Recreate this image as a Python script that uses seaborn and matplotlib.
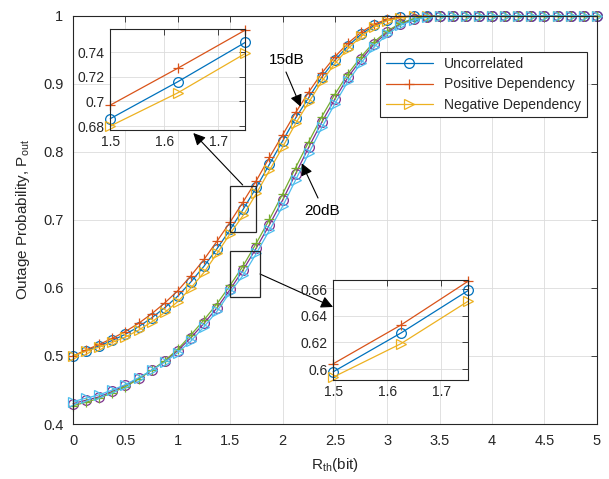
import numpy as np
import pandas as pd
import seaborn as sns
import matplotlib.pyplot as plt
from matplotlib.patches import Rectangle
from matplotlib.ticker import FuncFormatter

# ---- data ----
r_th = [0, 0.125, 0.25, 0.375, 0.5, 0.625, 0.75, 0.875, 1.0, 1.125, 1.25, 1.375,
        1.5, 1.625, 1.75, 1.875, 2.0, 2.125, 2.25, 2.375, 2.5, 2.625, 2.75, 2.875,
        3.0, 3.125, 3.25, 3.375, 3.5, 3.625, 3.75, 3.875, 4.0, 4.125, 4.25, 4.375,
        4.5, 4.625, 4.75, 4.875, 5.0]

# 15 dB
unc_15 = [0.500, 0.508, 0.515, 0.523, 0.532, 0.543, 0.556, 0.571, 0.588, 0.609, 0.632, 0.658,
          0.686, 0.716, 0.748, 0.782, 0.816, 0.850, 0.880, 0.910, 0.935, 0.956, 0.973, 0.986,
          0.994, 0.998, 1.0, 1.0, 1.0, 1.0, 1.0, 1.0, 1.0, 1.0, 1.0, 1.0,
          1.0, 1.0, 1.0, 1.0, 1.0]
pos_15 = [0.500, 0.509, 0.517, 0.526, 0.536, 0.548, 0.562, 0.578, 0.596, 0.618, 0.642, 0.669,
          0.697, 0.727, 0.758, 0.792, 0.825, 0.858, 0.888, 0.916, 0.940, 0.960, 0.976, 0.988,
          0.995, 0.999, 1.0, 1.0, 1.0, 1.0, 1.0, 1.0, 1.0, 1.0, 1.0, 1.0,
          1.0, 1.0, 1.0, 1.0, 1.0]
neg_15 = [0.500, 0.507, 0.513, 0.520, 0.528, 0.538, 0.550, 0.564, 0.580, 0.600, 0.623, 0.651,
          0.680, 0.707, 0.739, 0.773, 0.807, 0.842, 0.873, 0.904, 0.930, 0.952, 0.970, 0.984,
          0.993, 0.997, 1.0, 1.0, 1.0, 1.0, 1.0, 1.0, 1.0, 1.0, 1.0, 1.0,
          1.0, 1.0, 1.0, 1.0, 1.0]
# 20 dB
unc_20 = [0.430, 0.435, 0.440, 0.448, 0.457, 0.467, 0.479, 0.492, 0.508, 0.527, 0.548, 0.571,
          0.598, 0.627, 0.659, 0.693, 0.729, 0.768, 0.807, 0.844, 0.878, 0.910, 0.936, 0.959,
          0.976, 0.988, 0.995, 0.999, 1.0, 1.0, 1.0, 1.0, 1.0, 1.0, 1.0, 1.0,
          1.0, 1.0, 1.0, 1.0, 1.0]
pos_20 = [0.427, 0.432, 0.438, 0.446, 0.455, 0.466, 0.479, 0.493, 0.510, 0.531, 0.553, 0.577,
          0.604, 0.633, 0.666, 0.701, 0.738, 0.777, 0.815, 0.852, 0.885, 0.915, 0.940, 0.962,
          0.978, 0.989, 0.996, 0.999, 1.0, 1.0, 1.0, 1.0, 1.0, 1.0, 1.0, 1.0,
          1.0, 1.0, 1.0, 1.0, 1.0]
neg_20 = [0.433, 0.438, 0.443, 0.450, 0.458, 0.468, 0.479, 0.491, 0.505, 0.522, 0.543, 0.566,
          0.594, 0.619, 0.651, 0.685, 0.720, 0.759, 0.798, 0.836, 0.871, 0.904, 0.931, 0.955,
          0.973, 0.986, 0.994, 0.998, 1.0, 1.0, 1.0, 1.0, 1.0, 1.0, 1.0, 1.0,
          1.0, 1.0, 1.0, 1.0, 1.0]

labels = ['Uncorrelated', 'Positive Dependency', 'Negative Dependency']

rows = []
for snr, series in [('15dB', [unc_15, pos_15, neg_15]), ('20dB', [unc_20, pos_20, neg_20])]:
    for lab, vals in zip(labels, series):
        for x, y in zip(r_th, vals):
            rows.append((snr, lab, x, y))
df = pd.DataFrame(rows, columns=['snr', 'dep', 'R', 'P'])

# ---- style ----
sns.set_theme(style="whitegrid")
plt.rcParams['font.family'] = ['Liberation Sans', 'DejaVu Sans']
plt.rcParams['axes.edgecolor'] = '#262626'
plt.rcParams['xtick.color'] = '#262626'
plt.rcParams['ytick.color'] = '#262626'
plt.rcParams['text.color'] = '#262626'
plt.rcParams['axes.labelcolor'] = '#262626'

# MATLAB default colours
main_colors = {'15dB': ['#0072BD', '#D95319', '#EDB120'],
               '20dB': ['#7E2F8E', '#77AC30', '#4DBEEE']}
inset_colors = ['#0072BD', '#D95319', '#EDB120']
dep_markers = ['o', '+', '>']

fmt = FuncFormatter(lambda v, p: '%g' % round(v, 4))


def style_axes(ax, fs, pad=4):
    ax.tick_params(direction='in', top=True, right=True, length=4, width=0.6,
                   labelsize=fs, pad=pad)
    for s in ax.spines.values():
        s.set_visible(True)
        s.set_linewidth(0.8)
        s.set_color('#262626')
    ax.grid(True, color='#dcdcdc', linewidth=0.6)
    ax.set_facecolor('white')
    ax.xaxis.set_major_formatter(fmt)
    ax.yaxis.set_major_formatter(fmt)


def draw_series(ax, data, colors, ms):
    for i, lab in enumerate(labels):
        sub = data[data['dep'] == lab]
        sns.lineplot(data=sub, x='R', y='P', ax=ax, color=colors[i], marker=dep_markers[i],
                     ms=ms, mfc='none', mec=colors[i], mew=0.9, lw=0.9, legend=False,
                     errorbar=None, clip_on=False)


fig = plt.figure(figsize=(6.09, 4.79), dpi=100)
ax = fig.add_axes([0.120, 0.1148, 0.860, 0.852])

for snr in ['15dB', '20dB']:
    draw_series(ax, df[df['snr'] == snr], main_colors[snr], 7)

ax.set_xlim(0, 5)
ax.set_ylim(0.4, 1)
ax.set_xticks([0, 0.5, 1, 1.5, 2, 2.5, 3, 3.5, 4, 4.5, 5])
ax.set_yticks([0.4, 0.5, 0.6, 0.7, 0.8, 0.9, 1.0])
style_axes(ax, 10.5, pad=7)
ax.set_xlabel(r'R$_{\mathregular{th}}$(bit)', fontsize=11, labelpad=6)
ax.set_ylabel(r'Outage Probability, P$_{\mathregular{out}}$', fontsize=11, labelpad=8)

leg = ax.legend(handles=ax.lines[:3], labels=labels, loc='upper right',
                bbox_to_anchor=(0.9634, 0.8921), bbox_transform=fig.transFigure,
                fontsize=10, frameon=True, fancybox=False, handlelength=3.4,
                labelspacing=0.45, borderpad=0.4, borderaxespad=0)
leg.get_frame().set_edgecolor('#262626')
leg.get_frame().set_linewidth(0.8)
leg.get_frame().set_alpha(1)

# zoom boxes
ax.add_patch(Rectangle((1.5, 0.683), 0.25, 0.067, fill=False, ec='#262626', lw=0.9, zorder=5))
ax.add_patch(Rectangle((1.5, 0.587), 0.28, 0.068, fill=False, ec='#262626', lw=0.9, zorder=5))

# arrows & text
arrow_kw = dict(arrowstyle='-|>', color='black', lw=0.8, mutation_scale=18,
                shrinkA=0, shrinkB=0)
for tail, tip in [((0.3985, 0.6138), (0.3174, 0.7223)),
                  ((0.4269, 0.4280), (0.5468, 0.3591)),
                  ((0.4696, 0.8497), (0.4938, 0.7772)),
                  ((0.5222, 0.5866), (0.4954, 0.6591))]:
    ax.annotate('', xy=tip, xytext=tail, xycoords='figure fraction',
                textcoords='figure fraction', arrowprops=arrow_kw, annotation_clip=False)
fig.text(0.4713, 0.8747, '15dB', fontsize=11, ha='center', va='center', color='black')
fig.text(0.5287, 0.5595, '20dB', fontsize=11, ha='center', va='center', color='black')

# insets
ax_in1 = fig.add_axes([0.181, 0.729, 0.222, 0.211])
sel = df[(df['snr'] == '15dB') & (df['R'] >= 1.5) & (df['R'] <= 1.75)]
draw_series(ax_in1, sel, inset_colors, 7)
ax_in1.set_xlim(1.5, 1.75)
ax_in1.set_ylim(0.677, 0.759)
ax_in1.set_xticks([1.5, 1.6, 1.7])
ax_in1.set_yticks([0.68, 0.70, 0.72, 0.74])
style_axes(ax_in1, 10)
ax_in1.set_xlabel('')
ax_in1.set_ylabel('')

ax_in2 = fig.add_axes([0.547, 0.207, 0.222, 0.209])
sel = df[(df['snr'] == '20dB') & (df['R'] >= 1.5) & (df['R'] <= 1.75)]
draw_series(ax_in2, sel, inset_colors, 7)
ax_in2.set_xlim(1.5, 1.75)
ax_in2.set_ylim(0.592, 0.667)
ax_in2.set_xticks([1.5, 1.6, 1.7])
ax_in2.set_yticks([0.60, 0.62, 0.64, 0.66])
style_axes(ax_in2, 10)
ax_in2.set_xlabel('')
ax_in2.set_ylabel('')

fig.savefig('out.png', dpi=100, facecolor='white')
